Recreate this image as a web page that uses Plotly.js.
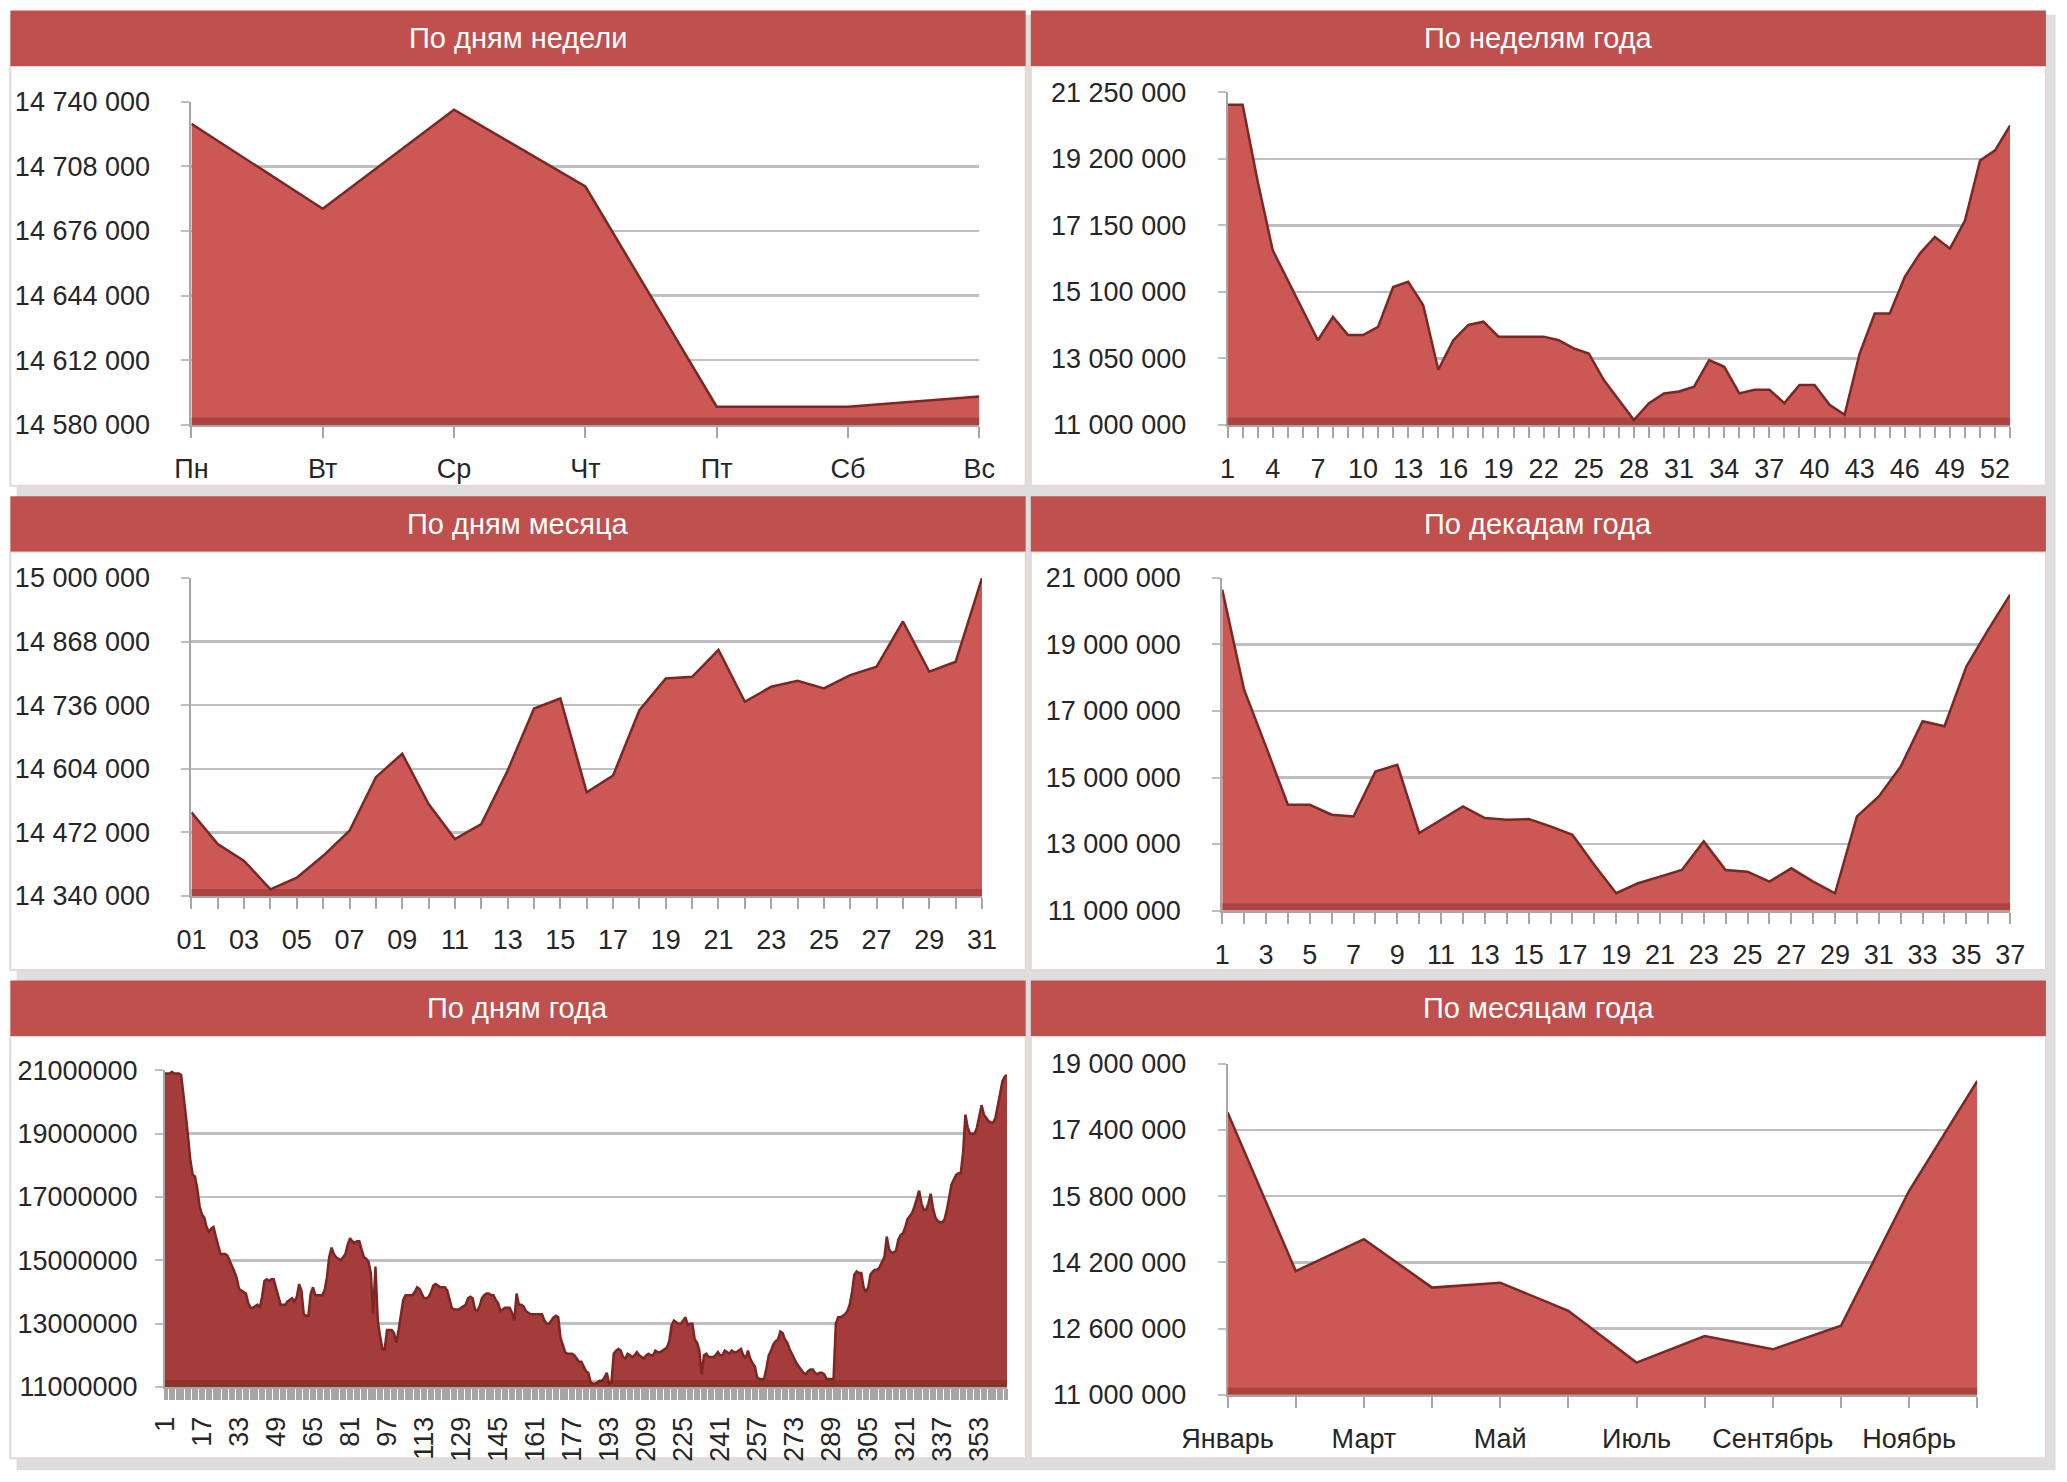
<!DOCTYPE html>
<html lang="ru">
<head>
<meta charset="utf-8">
<title>Продажи: сезонность</title>
<script src="https://cdn.plot.ly/plotly-3.0.1.min.js"></script>
<style>
  html, body { margin: 0; padding: 0; background: #ffffff; }
  #dashboard { width: 2067px; height: 1482px; }
</style>
</head>
<body>
<div id="dashboard"></div>
<script>
// Сезонность продаж - шесть графиков-областей в стиле Excel

// По дням недели
const weekDays = ['Пн', 'Вт', 'Ср', 'Чт', 'Пт', 'Сб', 'Вс'];
const weekDayValues = [14729000, 14687000, 14736000, 14698000, 14589000, 14589000, 14594000];

// По неделям года (1..53)
const weekValues = [
  20870000, 20870000, 18500000, 16380000, 15460000, 14540000, 13610000, 14330000, 13770000, 13770000,
  14020000, 15250000, 15410000, 14690000, 12700000, 13610000, 14080000, 14180000, 13720000, 13720000,
  13720000, 13720000, 13610000, 13360000, 13200000, 12380000, 11770000, 11150000, 11670000, 11970000,
  12030000, 12180000, 13000000, 12790000, 11970000, 12080000, 12080000, 11670000, 12230000, 12230000,
  11620000, 11310000, 13200000, 14430000, 14430000, 15560000, 16280000, 16790000, 16430000, 17300000,
  19150000, 19460000, 20230000
];

// По дням месяца
const monthDayLabels = ['01', '03', '05', '07', '09', '11', '13', '15', '17', '19', '21', '23', '25', '27', '29', '31'];
const monthDayTicks = [1, 3, 5, 7, 9, 11, 13, 15, 17, 19, 21, 23, 25, 27, 29, 31];
const monthDayValues = [
  14513700, 14447700, 14412900, 14353900, 14378200, 14423400, 14475500, 14586600, 14635200, 14531000,
  14458100, 14489400, 14600500, 14729000, 14749900, 14555400, 14590100, 14725600, 14791600, 14795000,
  14850600, 14742900, 14774200, 14786700, 14770700, 14798500, 14815900, 14909700, 14805400, 14826300,
  15000000
];

// По декадам года (1..37)
const decadeValues = [
  20650000, 17640000, 15930000, 14180000, 14180000, 13880000, 13830000, 15180000, 15380000, 13330000,
  13730000, 14130000, 13780000, 13730000, 13750000, 13530000, 13280000, 12370000, 11520000, 11820000,
  12020000, 12220000, 13080000, 12220000, 12170000, 11870000, 12270000, 11870000, 11520000, 13830000,
  14430000, 15330000, 16690000, 16540000, 18340000, 19450000, 20500000
];

// По дням года, млн
const yearTickVals = [1, 17, 33, 49, 65, 81, 97, 113, 129, 145, 161, 177, 193, 209, 225, 241, 257, 273, 289, 305, 321, 337, 353];
const yearTickText = ['1', '17', '33', '49', '65', '81', '97', '113', '129', '145', '161', '177', '193', '209', '225', '241', '257', '273', '289', '305', '321', '337', '353'];
const yearAxisVals = [11, 13, 15, 17, 19, 21];
const yearAxisText = ['11000000', '13000000', '15000000', '17000000', '19000000', '21000000'];
const dayOfYearMln = [
  20.9, 20.9, 20.9, 20.95, 20.9, 20.9, 20.9, 20.85, 20.3, 19.6,
  18.9, 18.15, 17.7, 17.65, 17.25, 16.7, 16.45, 16.35, 16.05, 15.9,
  16.0, 16.05, 15.75, 15.45, 15.2, 15.2, 15.2, 15.15, 15.0, 14.85,
  14.65, 14.45, 14.1, 14.05, 14.0, 13.95, 13.65, 13.5, 13.5, 13.55,
  13.6, 13.5, 13.85, 14.35, 14.4, 14.35, 14.4, 14.4, 14.15, 13.85,
  13.6, 13.6, 13.6, 13.7, 13.75, 13.8, 13.7, 13.85, 14.25, 14.05,
  13.3, 13.25, 13.25, 13.95, 14.15, 13.9, 13.9, 13.9, 13.9, 14.05,
  14.45, 15.1, 15.4, 15.2, 15.1, 15.05, 15.0, 15.1, 15.2, 15.5,
  15.7, 15.6, 15.55, 15.6, 15.6, 15.35, 15.1, 15.05, 14.95, 14.6,
  13.3, 14.8, 13.1, 12.6, 12.2, 12.2, 12.8, 12.8, 12.8, 12.7,
  12.4, 12.8, 13.35, 13.75, 13.9, 13.9, 13.9, 13.9, 14.0, 14.15,
  14.1, 13.95, 13.8, 13.8, 13.85, 14.0, 14.2, 14.25, 14.2, 14.15,
  14.15, 14.15, 14.05, 13.8, 13.5, 13.45, 13.45, 13.45, 13.5, 13.55,
  13.6, 13.8, 13.85, 13.8, 13.45, 13.4, 13.55, 13.8, 13.9, 13.95,
  13.95, 13.9, 13.9, 13.75, 13.65, 13.4, 13.45, 13.5, 13.5, 13.5,
  13.35, 13.1, 13.95, 13.6, 13.6, 13.55, 13.4, 13.35, 13.3, 13.3,
  13.3, 13.3, 13.3, 13.3, 13.1, 13.0, 13.0, 13.1, 13.2, 13.25,
  13.2, 12.55, 12.3, 12.1, 12.05, 12.05, 12.05, 12.0, 11.9, 11.8,
  11.8, 11.65, 11.5, 11.45, 11.15, 11.1, 11.1, 11.15, 11.2, 11.2,
  11.3, 11.45, 11.1, 11.15, 12.05, 12.15, 12.2, 12.15, 11.95, 11.9,
  12.05, 12.0, 11.95, 12.0, 12.1, 12.0, 11.95, 11.9, 12.0, 12.05,
  12.0, 12.0, 12.15, 12.1, 12.1, 12.15, 12.2, 12.25, 12.45, 12.95,
  13.1, 13.05, 13.0, 13.0, 13.1, 13.2, 12.95, 13.0, 13.0, 12.5,
  12.4, 12.15, 11.4, 12.0, 12.05, 11.95, 11.95, 11.95, 12.0, 12.1,
  12.0, 12.0, 12.15, 12.1, 12.05, 12.15, 12.1, 12.1, 12.15, 12.2,
  12.0, 11.9, 12.15, 11.9, 11.75, 11.65, 11.3, 11.25, 11.25, 11.25,
  11.6, 12.0, 12.15, 12.35, 12.45, 12.5, 12.75, 12.7, 12.5, 12.4,
  12.2, 12.05, 11.85, 11.75, 11.65, 11.55, 11.45, 11.4, 11.5, 11.55,
  11.55, 11.45, 11.4, 11.45, 11.45, 11.4, 11.25, 11.25, 11.25, 11.25,
  13.0, 13.2, 13.2, 13.25, 13.3, 13.4, 13.6, 14.0, 14.55, 14.65,
  14.6, 14.6, 14.15, 14.0, 14.15, 14.55, 14.65, 14.7, 14.7, 14.8,
  14.95, 15.1, 15.75, 15.35, 15.25, 15.25, 15.3, 15.65, 15.8, 15.85,
  16.05, 16.3, 16.4, 16.5, 16.7, 16.95, 17.2, 16.8, 16.6, 16.6,
  16.8, 17.1, 16.65, 16.35, 16.25, 16.2, 16.2, 16.3, 16.6, 17.0,
  17.4, 17.55, 17.7, 17.75, 17.75, 18.4, 19.6, 19.2, 19.0, 19.0,
  19.0, 19.2, 19.5, 19.9, 19.6, 19.5, 19.4, 19.35, 19.35, 19.5,
  19.9, 20.25, 20.65, 20.8, 20.85
];

// По месяцам года
const months = ['Январь', 'Февраль', 'Март', 'Апрель', 'Май', 'Июнь', 'Июль', 'Август', 'Сентябрь', 'Октябрь', 'Ноябрь', 'Декабрь'];
const monthValues = [17820000, 13990000, 14760000, 13590000, 13710000, 13030000, 11780000, 12420000, 12100000, 12670000, 15930000, 18580000];

const COLORS = {
  header: '#C0504D',
  area: '#CB5855',
  areaDark: '#A33C3A',
  edge: '#7E2624',
  grid: '#BFBFBF',
  axis: '#A6A6A6',
  text: '#262626',
  border: '#E6D6D5'
};

const TICK_FONT = { family: 'Liberation Sans, Arial, sans-serif', size: 27, color: COLORS.text };

function positions(n, start) {
  return Array.from({ length: n }, (_, i) => i + start);
}

function areaTrace(x, y, n, fill) {
  return {
    x: x,
    y: y,
    xaxis: 'x' + n,
    yaxis: 'y' + n,
    type: 'scatter',
    mode: 'lines',
    fill: 'tozeroy',
    fillcolor: fill || COLORS.area,
    line: { color: COLORS.edge, width: 2.5 },
    hoverinfo: 'skip'
  };
}

function xAxis(domain, n, extra) {
  return Object.assign({
    domain: domain,
    anchor: 'y' + n,
    showgrid: false,
    zeroline: false,
    showline: true,
    linecolor: COLORS.axis,
    linewidth: 2,
    ticks: 'outside',
    ticklen: 11,
    tickwidth: 2,
    tickcolor: COLORS.axis,
    ticklabelstandoff: 8,
    tickfont: TICK_FONT
  }, extra);
}

function yAxis(domain, n, range, dtick, extra) {
  return Object.assign({
    domain: domain,
    anchor: 'x' + n,
    range: range,
    tick0: range[0],
    dtick: dtick,
    tickformat: ',d',
    showgrid: true,
    gridcolor: COLORS.grid,
    gridwidth: 2.5,
    zeroline: false,
    showline: true,
    linecolor: COLORS.axis,
    linewidth: 2,
    ticks: 'outside',
    ticklen: 8,
    tickwidth: 2,
    tickcolor: COLORS.grid,
    ticklabelstandoff: 26,
    tickfont: TICK_FONT
  }, extra);
}

function minorTicks(dtick, tick0) {
  return { ticks: 'outside', ticklen: 11, tickwidth: 2, tickcolor: COLORS.axis, tickmode: 'linear', tick0: tick0, dtick: dtick, showgrid: false };
}

// Панели: границы по x, полоса заголовка и низ тела (доли листа)
const panels = [
  { x0: 0.005, x1: 0.4962, hy0: 0.9555, hy1: 0.9929, by0: 0.6723, title: 'По дням недели' },
  { x0: 0.4987, x1: 0.9898, hy0: 0.9555, hy1: 0.9929, by0: 0.6723, title: 'По неделям года' },
  { x0: 0.005, x1: 0.4962, hy0: 0.6278, hy1: 0.6652, by0: 0.3455, title: 'По дням месяца' },
  { x0: 0.4987, x1: 0.9898, hy0: 0.6278, hy1: 0.6652, by0: 0.3455, title: 'По декадам года' },
  { x0: 0.005, x1: 0.4962, hy0: 0.3010, hy1: 0.3384, by0: 0.0160, title: 'По дням года' },
  { x0: 0.4987, x1: 0.9898, hy0: 0.3010, hy1: 0.3384, by0: 0.0160, title: 'По месяцам года' }
];

const shapes = [{
  type: 'rect', xref: 'paper', yref: 'paper', layer: 'below',
  x0: 0.008, x1: 0.9945, y0: 0.008, y1: 0.99,
  fillcolor: 'rgba(0,0,0,0.13)', line: { width: 0 }
}];
const annotations = [];

panels.forEach(p => {
  shapes.push({
    type: 'rect', xref: 'paper', yref: 'paper', layer: 'below',
    x0: p.x0, x1: p.x1, y0: p.by0, y1: p.hy0,
    fillcolor: '#FFFFFF', line: { color: COLORS.border, width: 2 }
  });
  shapes.push({
    type: 'rect', xref: 'paper', yref: 'paper', layer: 'below',
    x0: p.x0, x1: p.x1, y0: p.hy0, y1: p.hy1,
    fillcolor: COLORS.header, line: { width: 0 }
  });
  annotations.push({
    xref: 'paper', yref: 'paper', x: (p.x0 + p.x1) / 2, y: (p.hy0 + p.hy1) / 2,
    text: p.title, showarrow: false, xanchor: 'center', yanchor: 'middle',
    font: { family: 'Liberation Sans Narrow, Arial Narrow, sans-serif', size: 29, color: '#FFFFFF' }
  });
});

// тёмная кромка у основания каждой области
[1, 2, 3, 4, 5, 6].forEach(n => {
  const ax = n === 1 ? '' : n;
  shapes.push({
    type: 'rect', xref: 'x' + ax + ' domain', yref: 'y' + ax + ' domain', layer: 'above',
    x0: 0, x1: 1, y0: 0, y1: 0.022,
    fillcolor: 'rgba(110,28,26,0.35)', line: { width: 0 }
  });
});

const data = [
  areaTrace(positions(7, 0), weekDayValues, ''),
  areaTrace(positions(53, 1), weekValues, 2),
  areaTrace(positions(31, 1), monthDayValues, 3),
  areaTrace(positions(37, 1), decadeValues, 4),
  areaTrace(positions(365, 1), dayOfYearMln, 5, COLORS.areaDark),
  areaTrace(positions(12, 0), monthValues, 6)
];

const monthTickVals = [0, 2, 4, 6, 8, 10];

const layout = {
  width: 2067,
  height: 1482,
  margin: { l: 0, r: 0, t: 0, b: 0 },
  paper_bgcolor: '#FFFFFF',
  plot_bgcolor: 'rgba(0,0,0,0)',
  separators: ', ',
  showlegend: false,
  hovermode: false,
  shapes: shapes,
  annotations: annotations,

  xaxis: xAxis([0.0926, 0.4738], '', {
    range: [0, 6], tickmode: 'array',
    tickvals: positions(7, 0), ticktext: weekDays
  }),
  yaxis: yAxis([0.7133, 0.9314], '', [14580000, 14740000], 32000),

  xaxis2: xAxis([0.5939, 0.9725], 2, {
    range: [1, 53], tickmode: 'linear', tick0: 1, dtick: 3, minor: minorTicks(1, 1)
  }),
  yaxis2: yAxis([0.7133, 0.9377], 2, [11000000, 21250000], 2050000),

  xaxis3: xAxis([0.0926, 0.4751], 3, {
    range: [1, 31], tickmode: 'array', tickvals: monthDayTicks, ticktext: monthDayLabels,
    minor: minorTicks(1, 1)
  }),
  yaxis3: yAxis([0.3954, 0.6100], 3, [14340000, 15000000], 132000),

  xaxis4: xAxis([0.5913, 0.9725], 4, {
    range: [1, 37], tickmode: 'linear', tick0: 1, dtick: 2, minor: minorTicks(1, 1)
  }),
  yaxis4: yAxis([0.3856, 0.6100], 4, [11000000, 21000000], 2000000),

  xaxis5: xAxis([0.0798, 0.4872], 5, {
    range: [1, 365], tickmode: 'array', tickvals: yearTickVals, ticktext: yearTickText,
    tickangle: -90, ticklabelstandoff: 6, minor: minorTicks(1, 1)
  }),
  yaxis5: yAxis([0.0641, 0.2778], 5, [11, 21], 2, {
    tickmode: 'array', tickvals: yearAxisVals, ticktext: yearAxisText, ticklabelstandoff: 12
  }),

  xaxis6: xAxis([0.5939, 0.9566], 6, {
    range: [0, 11], tickmode: 'array', tickvals: monthTickVals,
    ticktext: monthTickVals.map(i => months[i]), minor: minorTicks(1, 0)
  }),
  yaxis6: yAxis([0.0588, 0.2823], 6, [11000000, 19000000], 1600000)
};

Plotly.newPlot('dashboard', data, layout, { staticPlot: true, displayModeBar: false });
</script>
</body>
</html>
